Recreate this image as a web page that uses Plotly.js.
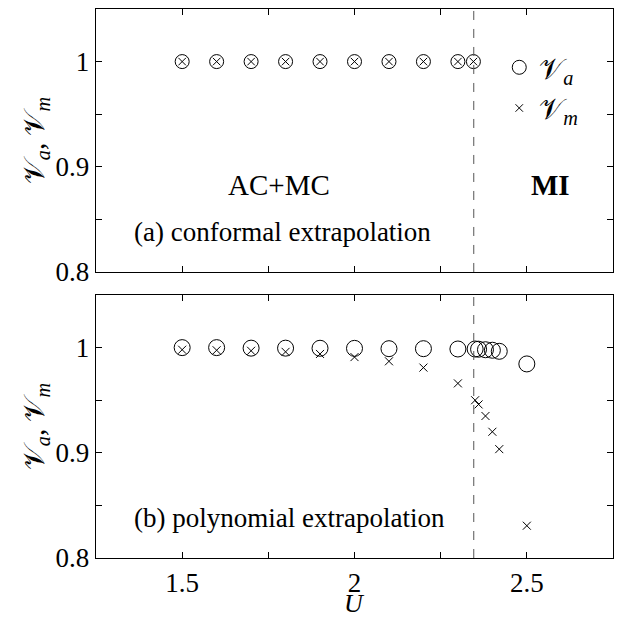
<!DOCTYPE html>
<html>
<head>
<meta charset="utf-8">
<script src="https://cdn.plot.ly/plotly-3.0.1.min.js"></script>
<style>body{margin:0;padding:0;background:#fff}</style>
</head>
<body>
<div id="chart" style="width:623px;height:618px"></div>
<script>
// ---- data ----
var U_top = [1.5, 1.6, 1.7, 1.8, 1.9, 2.0, 2.1, 2.2, 2.3, 2.345];
var Va_top = [1, 1, 1, 1, 1, 1, 1, 1, 1, 1];
var Vm_top = [1, 1, 1, 1, 1, 1, 1, 1, 1, 1];

var U_bot = [1.5, 1.6, 1.7, 1.8, 1.9, 2.0, 2.1, 2.2, 2.3, 2.35, 2.36, 2.38, 2.40, 2.42, 2.5];
var Va_bot = [1.0, 1.0, 0.9995, 0.9995, 0.9994, 0.9993, 0.999, 0.999, 0.9987, 0.9987, 0.9985, 0.998, 0.9975, 0.9965, 0.9845];
var Vm_bot = [0.998, 0.9975, 0.997, 0.996, 0.994, 0.991, 0.987, 0.981, 0.966, 0.950, 0.946, 0.935, 0.920, 0.9035, 0.8307];

var Uc = 2.346;

var xTickVals = [1.5, 1.75, 2, 2.25, 2.5];
var xTickText = ['1.5', '', '2', '', '2.5'];
var yTickVals = [0.8, 0.85, 0.9, 0.95, 1.0];
var yTickText = ['0.8', '', '0.9', '', '1'];

var serif = '"Times New Roman", "Liberation Serif", "DejaVu Serif", serif';

function circ(x, y, xa, ya, size, show) {
  return {x: x, y: y, xaxis: xa, yaxis: ya, type: 'scatter', mode: 'markers',
    name: '𝒱<sub><i>a</i></sub>', showlegend: show, legendgroup: 'a',
    marker: {symbol: 'circle-open', size: size, color: 'black', line: {width: 1, color: 'black'}}};
}
function cross(x, y, xa, ya, size, show) {
  return {x: x, y: y, xaxis: xa, yaxis: ya, type: 'scatter', mode: 'markers',
    name: '𝒱<sub><i>m</i></sub>', showlegend: show, legendgroup: 'm',
    marker: {symbol: 'x-thin-open', size: size, color: 'black', line: {width: 1, color: 'black'}}};
}

var data = [
  circ(U_top, Va_top, 'x', 'y', 14, true),
  cross(U_top, Vm_top, 'x', 'y', 7.5, true),
  circ(U_bot, Va_bot, 'x2', 'y2', 16, false),
  cross(U_bot, Vm_bot, 'x2', 'y2', 8, false)
];

function xax(labels, anchor) {
  return {range: [1.25, 2.75], anchor: anchor, tickvals: xTickVals,
    ticktext: labels ? xTickText : ['', '', '', '', ''],
    ticks: 'inside', ticklen: 6, tickwidth: 1, tickcolor: 'black',
    showline: true, linecolor: 'black', linewidth: 1.3, mirror: 'allticks',
    showgrid: false, zeroline: false,
    tickfont: {family: serif, size: 27, color: 'black'}};
}
function yax(domain, anchor) {
  return {range: [0.8, 1.05], domain: domain, anchor: anchor,
    tickvals: yTickVals, ticktext: yTickText,
    ticks: 'inside', ticklen: 6, tickwidth: 1, tickcolor: 'black',
    showline: true, linecolor: 'black', linewidth: 1.3, mirror: 'allticks',
    showgrid: false, zeroline: false,
    tickfont: {family: serif, size: 27, color: 'black'},
    title: {text: '𝒱<sub><i>a</i></sub>, 𝒱<sub><i>m</i></sub>', font: {family: serif, size: 29, color: 'black'}, standoff: 2}};
}

var layout = {
  width: 623, height: 618,
  margin: {l: 96, r: 10, t: 9, b: 60},
  paper_bgcolor: 'white', plot_bgcolor: 'white',
  xaxis: xax(false, 'y'),
  xaxis2: xax(true, 'y2'),
  yaxis: yax([0.521, 1], 'x'),
  yaxis2: yax([0, 0.479], 'x2'),
  showlegend: true,
  legend: {x: 0.78, y: 0.94, xanchor: 'left', yanchor: 'top', bgcolor: 'rgba(0,0,0,0)',
    font: {family: serif, size: 29, color: 'black'}, itemwidth: 30, tracegroupgap: 0},
  shapes: [
    {type: 'line', xref: 'x', yref: 'y domain', x0: Uc, x1: Uc, y0: 0, y1: 1,
     line: {color: '#555', width: 1, dash: 'dash'}},
    {type: 'line', xref: 'x2', yref: 'y2 domain', x0: Uc, x1: Uc, y0: 0, y1: 1,
     line: {color: '#555', width: 1, dash: 'dash'}}
  ],
  annotations: [
    {text: 'AC+MC', xref: 'x', yref: 'y', x: 1.78, y: 0.883, showarrow: false,
     font: {family: serif, size: 29, color: 'black'}},
    {text: '<b>MI</b>', xref: 'x', yref: 'y', x: 2.57, y: 0.883, showarrow: false,
     font: {family: serif, size: 29, color: 'black'}},
    {text: '(a) conformal extrapolation', xref: 'x', yref: 'y', x: 1.355, y: 0.838,
     xanchor: 'left', showarrow: false, font: {family: serif, size: 27, color: 'black'}},
    {text: '(b) polynomial extrapolation', xref: 'x2', yref: 'y2', x: 1.355, y: 0.838,
     xanchor: 'left', showarrow: false, font: {family: serif, size: 27, color: 'black'}},
    {text: '<i>U</i>', xref: 'x2', yref: 'paper', x: 2, y: 0, yshift: -45, yanchor: 'middle',
     showarrow: false, font: {family: serif, size: 26, color: 'black'}}
  ]
};

Plotly.newPlot('chart', data, layout, {displayModeBar: false, staticPlot: true});
</script>
</body>
</html>
